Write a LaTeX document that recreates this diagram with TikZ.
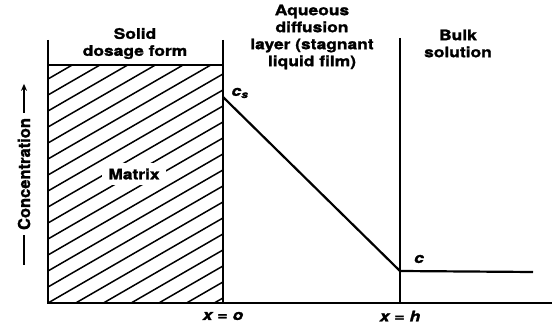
\documentclass[tikz,border=0pt]{standalone}
\usepackage{fontspec}
\setmainfont{TeX Gyre Heros}[FakeStretch=1.2, BoldFeatures={FakeBold=1.6}, BoldItalicFeatures={FakeBold=1.6}]
\newfontfamily\axisfont{TeX Gyre Heros}[BoldFeatures={FakeBold=1.4}]
\usetikzlibrary{arrows.meta}

\begin{document}
\begin{tikzpicture}[x=1pt,y=1pt, font=\fontsize{14.5}{17}\selectfont\bfseries]
	\useasboundingbox (0,0) rectangle (552,324);
	% hatched matrix
	\begin{scope}
		\clip (48,21) rectangle (223,259);
		\foreach \k in {-7,...,15} {\draw[line width=1.5pt] (48,21+16*\k) -- ++(30:215);}
	\end{scope}
	\draw[line width=1.5pt] (48,259) -- (223,259);
	\node[fill=white, inner sep=6pt] (matrix) at (134,150) {Matrix};
	% frame lines
	\draw[line width=1.8pt] (48,284) -- (48,21) -- (552,21);
	\draw[line width=1.8pt] (223,284) -- (223,21);
	\draw[line width=1.8pt] (400,286) -- (400,21);
	% concentration profile
	\coordinate (surf) at (223,227);
	\coordinate (edge) at (400,53);
	\coordinate (bulkend) at (533,52);
	\draw[line width=2.2pt, line join=miter] (surf) -- (edge) -- (bulkend);
	\node (cs) at (240,231) {\itshape c\textsubscript{s}};
	\node (c) at (419,65) {\itshape c};
	% region titles
	\node[align=center] (solid) at (135,280.5) {Solid\\dosage form};
	\node[align=center] (layer) at (312,287) {Aqueous\\diffusion\\layer (stagnant\\liquid film)};
	\node[align=center] (bulk) at (458,280.5) {Bulk\\solution};
	% positions
	\node (xo) at (223,8) {\itshape x\hspace{5pt}\upshape=\hspace{5pt}\itshape o};
	\node (xh) at (400,8) {\itshape x\hspace{5pt}\upshape=\hspace{5pt}\itshape h};
	% axis label
	\node[rotate=90, font=\axisfont\fontsize{16.5}{18}\selectfont\bfseries, inner sep=0pt] (conc) at (24,150) {Concentration};
	\draw[line width=1.8pt] ([yshift=-5pt]conc.west) -- ++(0,-30);
	\draw[line width=1.8pt, -{Stealth[length=7pt,width=6pt]}] ([yshift=5pt]conc.east) -- ++(0,29);
\end{tikzpicture}
\end{document}
